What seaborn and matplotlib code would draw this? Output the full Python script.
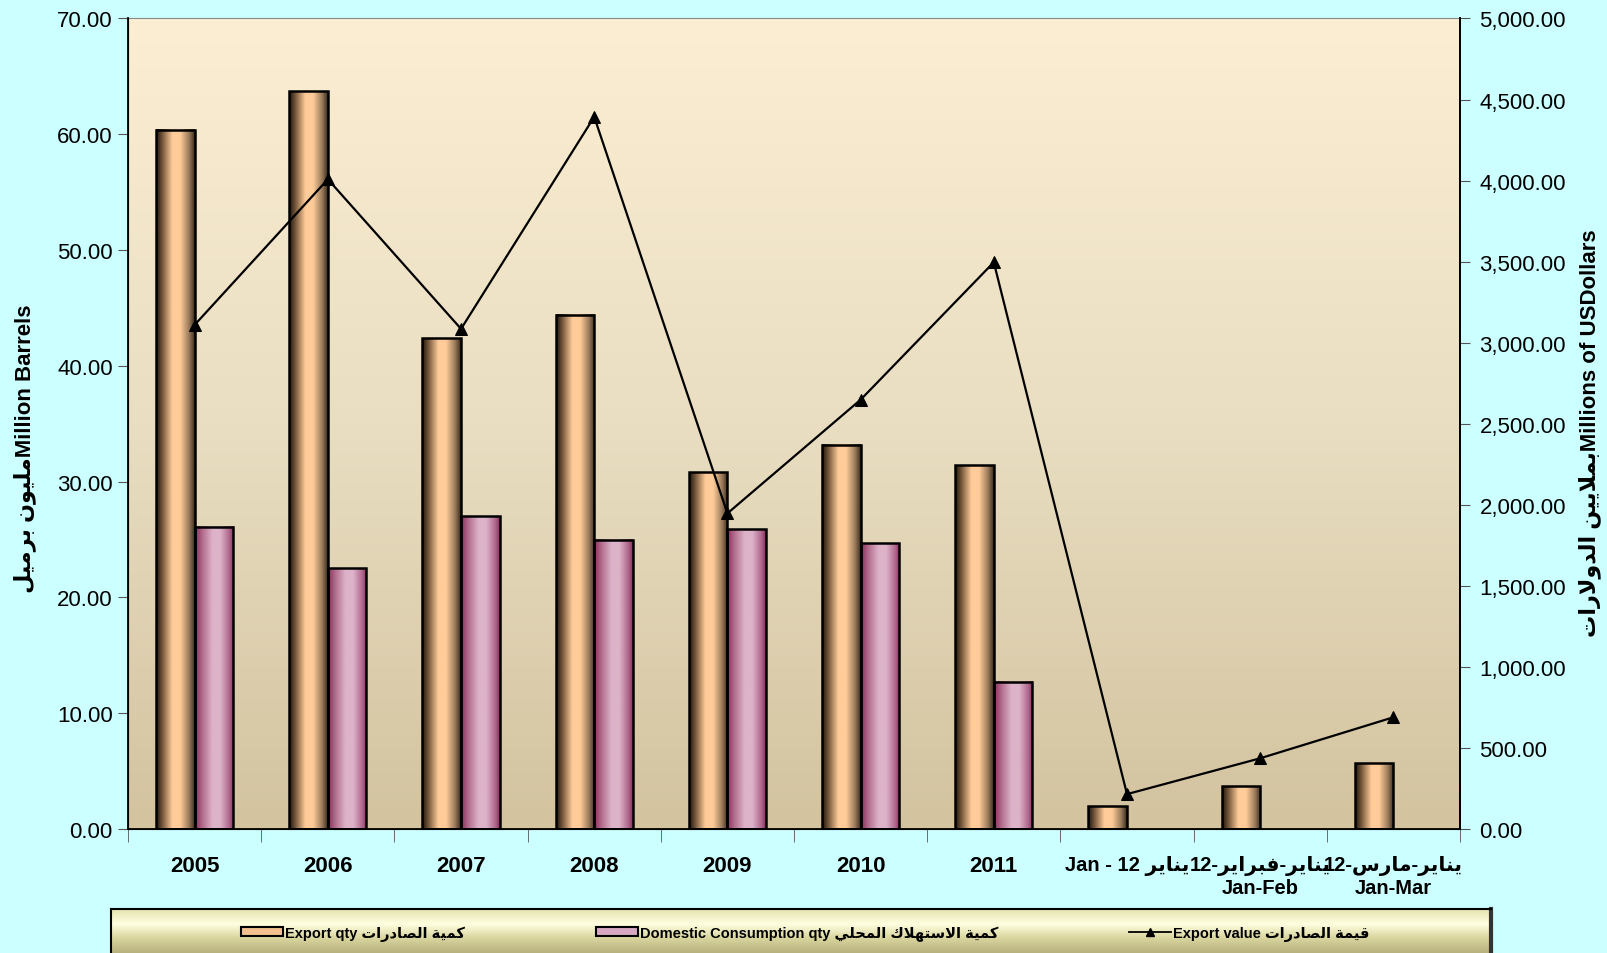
# Oil export / domestic consumption chart (bars + export value line)

import numpy as np
import pandas as pd
import seaborn as sns
import matplotlib.pyplot as plt
from matplotlib.colors import LinearSegmentedColormap
from matplotlib.patches import Rectangle
from matplotlib.lines import Line2D

# --- small arabic shaper (matplotlib has no text shaping) ---
FORMS = {
    'ا': ('\uFE8D', '\uFE8E', None, None),
    'ب': ('\uFE8F', '\uFE90', '\uFE91', '\uFE92'),
    'ة': ('\uFE93', '\uFE94', None, None),
    'ت': ('\uFE95', '\uFE96', '\uFE97', '\uFE98'),
    'ح': ('\uFEA1', '\uFEA2', '\uFEA3', '\uFEA4'),
    'د': ('\uFEA9', '\uFEAA', None, None),
    'ر': ('\uFEAD', '\uFEAE', None, None),
    'س': ('\uFEB1', '\uFEB2', '\uFEB3', '\uFEB4'),
    'ص': ('\uFEB9', '\uFEBA', '\uFEBB', '\uFEBC'),
    'ف': ('\uFED1', '\uFED2', '\uFED3', '\uFED4'),
    'ق': ('\uFED5', '\uFED6', '\uFED7', '\uFED8'),
    'ك': ('\uFED9', '\uFEDA', '\uFEDB', '\uFEDC'),
    'ل': ('\uFEDD', '\uFEDE', '\uFEDF', '\uFEE0'),
    'م': ('\uFEE1', '\uFEE2', '\uFEE3', '\uFEE4'),
    'ن': ('\uFEE5', '\uFEE6', '\uFEE7', '\uFEE8'),
    'ه': ('\uFEE9', '\uFEEA', '\uFEEB', '\uFEEC'),
    'و': ('\uFEED', '\uFEEE', None, None),
    'ي': ('\uFEF1', '\uFEF2', '\uFEF3', '\uFEF4'),
    'لا': ('\uFEFB', '\uFEFC', None, None),
}


def ar(text):
    toks = []
    i = 0
    while i < len(text):
        if text[i] == 'ل' and i + 1 < len(text) and text[i + 1] == 'ا':
            toks.append('لا')
            i += 2
        else:
            toks.append(text[i])
            i += 1
    out = []
    for k, t in enumerate(toks):
        if t not in FORMS:
            out.append(t)
            continue
        prev = toks[k - 1] if k > 0 else None
        nxt = toks[k + 1] if k + 1 < len(toks) else None
        jp = prev in FORMS and FORMS[prev][2] is not None
        jn = FORMS[t][2] is not None and nxt in FORMS
        iso, fin, ini, med = FORMS[t]
        if jp and jn:
            out.append(med)
        elif jp:
            out.append(fin)
        elif jn:
            out.append(ini)
        else:
            out.append(iso)
    return ''.join(out[::-1])


# --- data ---
categories = ["2005", "2006", "2007", "2008", "2009", "2010", "2011",
              "Jan - 12 " + ar("يناير"),
              "12-" + ar("يناير-فبراير") + "\nJan-Feb",
              "12-" + ar("يناير-مارس") + "\nJan-Mar"]
export_qty = [60.4, 63.7, 42.4, 44.4, 30.8, 33.2, 31.4, 1.95, 3.7, 5.7]
domestic_qty = [26.1, 22.5, 27.0, 25.0, 25.9, 24.7, 12.7]
export_value = [3110, 4008, 3085, 4393, 1947, 2648, 3496, 215, 436, 689]

series_names = ["Export qty " + ar("كمية الصادرات"),
                "Domestic Consumption qty " + ar("كمية الاستهلاك المحلي"),
                "Export value " + ar("قيمة الصادرات")]

df = pd.DataFrame({
    "period": categories + categories[:len(domestic_qty)],
    "qty": export_qty + domestic_qty,
    "series": ["export"] * len(export_qty) + ["domestic"] * len(domestic_qty),
})

FONT = ['Liberation Sans', 'DejaVu Sans']
plt.rcParams['font.family'] = FONT

fig = plt.figure(figsize=(16.07, 9.54), dpi=100, facecolor='#CCFFFF')
ax = fig.add_axes([0.0797, 0.130, 0.8288, 0.8496])
ax.set_facecolor('none')

# plot area gradient
bg = LinearSegmentedColormap.from_list('bg', ['#D3C39F', '#E9DEC2', '#FCEED3'])
ax.imshow(np.linspace(0, 1, 256).reshape(-1, 1), extent=(-0.5, 9.5, 0, 70),
          origin='lower', aspect='auto', cmap=bg, zorder=0)

sns.barplot(data=df, x="period", y="qty", hue="series", order=categories,
            hue_order=["export", "domestic"],
            palette={"export": "#FFCC99", "domestic": "#DDB3C9"},
            width=0.58, saturation=1, edgecolor='black', linewidth=1.8,
            legend=False, ax=ax, zorder=2)

cyl = {
    0: LinearSegmentedColormap.from_list('exp', [
        (0, '#1e140a'), (0.15, '#6e5238'), (0.42, '#FFCC99'),
        (0.62, '#FFCC99'), (0.85, '#9c7c5c'), (1, '#3a2c1e')]),
    1: LinearSegmentedColormap.from_list('dom', [
        (0, '#8c2e5e'), (0.2, '#b4708f'), (0.45, '#DDB3C9'),
        (0.65, '#DDB3C9'), (0.88, '#b06a8e'), (1, '#8c2e5e')]),
}
grad = np.linspace(0, 1, 128).reshape(1, -1)
for ci, cont in enumerate(ax.containers):
    for bar in cont:
        h = bar.get_height()
        if not np.isfinite(h) or h <= 0:
            continue
        x, w = bar.get_x(), bar.get_width()
        ax.imshow(grad, extent=(x, x + w, 0, h), aspect='auto',
                  cmap=cyl[ci], zorder=1.5)
        bar.set_facecolor('none')

ax.set_xlim(-0.5, len(categories) - 0.5)
ax.set_ylim(0, 70)
ax.set_yticks(np.arange(0, 71, 10))
ax.set_yticklabels([f"{v:.2f}" for v in np.arange(0, 71, 10)], fontsize=16)
ax.set_xticks(range(len(categories)))
ax.set_xticklabels(categories, fontsize=16, fontweight='bold')
for lbl in ax.get_xticklabels()[7:]:
    lbl.set_fontsize(14.5)
ax.set_xticks(np.arange(-0.5, len(categories), 1), minor=True)
ax.tick_params(axis='x', which='major', length=0, pad=19)
ax.tick_params(axis='x', which='minor', length=9, color='#555555', direction='out')
ax.tick_params(axis='y', length=7, color='#555555', pad=4)
ax.set_xlabel("")
ax.set_ylabel(ar("مليون برميل") + "Million Barrels", fontsize=16, fontweight='bold')
ax.yaxis.set_label_coords(-0.069, 0.47)

for s in ['left', 'bottom', 'right']:
    ax.spines[s].set_color('black')
    ax.spines[s].set_linewidth(1.3)
ax.spines['top'].set_color('#888888')
ax.spines['top'].set_linewidth(0.8)

# secondary axis: export value
ax2 = ax.twinx()
sns.lineplot(x=np.arange(len(categories)), y=export_value, ax=ax2, sort=False,
             color='black', linewidth=1.6, marker='^', markersize=9,
             markeredgecolor='black')
ax2.set_ylim(0, 5000)
ax2.set_yticks(np.arange(0, 5001, 500))
ax2.set_yticklabels([f"{v:,.2f}" for v in np.arange(0, 5001, 500)], fontsize=16)
ax2.tick_params(axis='y', length=7, color='#555555', pad=7)
ax2.set_ylabel(ar("بملايين الدولارات") + "Millions of USDollars",
               fontsize=16, fontweight='bold', rotation=90)
ax2.yaxis.set_label_coords(1.0886, 0.49)
ax2.spines['top'].set_visible(False)
ax2.spines['right'].set_linewidth(1.3)

# legend box
lax = fig.add_axes([111 / 1607, 0.0, 1380 / 1607, 44 / 954])
lg = LinearSegmentedColormap.from_list('lg', ['#E6E2B0', '#FFFFE0', '#D9D59E', '#B8B27E'])
lax.imshow(np.linspace(0, 1, 64).reshape(-1, 1), aspect='auto', cmap=lg,
           extent=(0, 1, 0, 1))
lax.set_xlim(0, 1)
lax.set_ylim(0, 1)
lax.set_xticks([])
lax.set_yticks([])
for s in ['left', 'top']:
    lax.spines[s].set_color('black')
    lax.spines[s].set_linewidth(1.5)
lax.spines['right'].set_color('#333333')
lax.spines['right'].set_linewidth(3)
lax.spines['bottom'].set_visible(False)

handles = [Rectangle((0, 0), 1, 1, facecolor='#F2C08E', edgecolor='black', linewidth=1.5),
           Rectangle((0, 0), 1, 1, facecolor='#D8A8C2', edgecolor='black', linewidth=1.5),
           Line2D([], [], color='black', linewidth=1.3, marker='^', markersize=6)]
fig.legend(handles, series_names, loc='center', bbox_to_anchor=(0.501, 0.021),
           ncol=3, frameon=False, handlelength=2.9, handleheight=0.6,
           columnspacing=9.0, handletextpad=0.1,
           prop={'family': FONT, 'weight': 'bold', 'size': 10.5})

fig.savefig("out.png", dpi=100, facecolor=fig.get_facecolor())
